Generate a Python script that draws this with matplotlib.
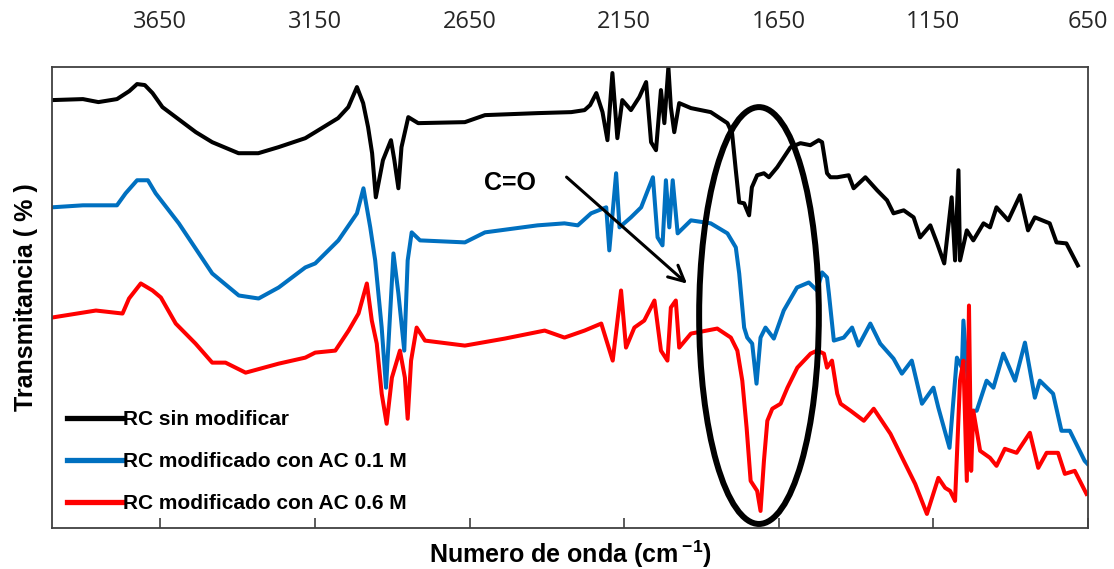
# FTIR spectra - RC sin modificar vs. modificado con AC
# Recreated with matplotlib

import matplotlib
matplotlib.use("Agg")
import matplotlib.pyplot as plt
from matplotlib.patches import Ellipse

plt.rcParams["font.family"] = ["Liberation Sans", "DejaVu Sans"]
plt.rcParams["mathtext.fontset"] = "custom"
plt.rcParams["mathtext.rm"] = "Liberation Sans"
plt.rcParams["mathtext.bf"] = "Liberation Sans:bold"

# 1st Step: data (wavenumber in cm-1, transmittance in arbitrary units)

black_wn = [4000, 3900, 3850, 3790, 3750, 3725, 3700, 3675, 3643, 3535, 3482, 3397, 3333, 3268,
            3181, 3149, 3075, 3042, 3014, 2994, 2978, 2965, 2953, 2930, 2904, 2893, 2880, 2870,
            2848, 2816, 2665, 2600, 2430, 2321, 2278, 2260, 2240, 2220, 2204, 2188, 2172, 2156,
            2128, 2101, 2079, 2063, 2047, 2031, 2020, 2007, 1999, 1988, 1972, 1934, 1870, 1816,
            1801, 1789, 1778, 1762, 1746, 1737, 1720, 1698, 1682, 1655, 1612, 1580, 1548, 1521,
            1510, 1494, 1483, 1461, 1424, 1408, 1370, 1332, 1300, 1279, 1246, 1214, 1193, 1160,
            1139, 1115, 1091, 1080, 1069, 1064, 1042, 1021, 988, 967, 946, 908, 870, 844, 822,
            774, 752, 720, 683]
black_t = [42.7, 42.8, 42.5, 42.8, 43.6, 44.3, 44.2, 43.4, 42.0, 39.5, 38.5, 37.4, 37.4, 38.0,
           38.9, 39.5, 40.9, 42.0, 44.0, 42.4, 40.0, 37.4, 33.0, 36.7, 38.7, 36.7, 33.9, 38.0,
           41.0, 40.4, 40.5, 41.2, 41.4, 41.5, 41.7, 42.2, 43.4, 41.5, 38.7, 45.4, 38.9, 42.7,
           41.7, 43.0, 44.5, 38.5, 37.7, 43.7, 40.4, 46.0, 42.0, 39.5, 42.4, 41.9, 41.5, 40.4,
           39.4, 35.7, 32.5, 32.4, 31.2, 34.0, 35.2, 35.4, 35.0, 36.0, 38.0, 38.4, 38.2, 38.7,
           38.5, 35.4, 35.0, 35.0, 35.2, 33.9, 35.0, 33.7, 32.7, 31.4, 31.7, 31.0, 29.0, 30.2,
           28.5, 26.4, 33.0, 26.7, 35.7, 26.7, 29.7, 28.7, 30.4, 30.0, 32.0, 30.7, 33.2, 29.7, 31.0,
           30.4, 28.5, 28.4, 26.2]

blue_wn = [4000, 3900, 3790, 3762, 3725, 3690, 3665, 3590, 3482, 3396, 3332, 3267, 3181, 3149,
           3074, 3014, 2993, 2971, 2955, 2934, 2920, 2896, 2880, 2861, 2850, 2837, 2810, 2665,
           2600, 2430, 2343, 2300, 2257, 2208, 2198, 2176, 2165, 2128, 2095, 2057, 2042, 2026,
           2015, 2004, 1993, 1977, 1934, 1870, 1816, 1789, 1778, 1762, 1752, 1736, 1722, 1709,
           1693, 1666, 1634, 1591, 1553, 1526, 1510, 1494, 1488, 1472, 1440, 1413, 1392, 1354,
           1322, 1279, 1252, 1220, 1187, 1150, 1134, 1098, 1074, 1058, 1053, 1032, 1010, 978,
           956, 924, 886, 854, 822, 806, 763, 736, 709, 661, 652]
blue_t = [32.0, 32.2, 32.2, 33.4, 34.7, 34.7, 33.4, 30.4, 25.4, 23.2, 22.9, 24.0, 26.0, 26.4,
          28.7, 31.4, 33.9, 30.0, 26.7, 20.0, 14.0, 27.4, 23.4, 17.7, 26.7, 29.5, 28.7, 28.5,
          29.5, 30.2, 30.4, 30.2, 31.4, 32.0, 27.7, 35.4, 30.0, 31.0, 32.0, 35.0, 29.0, 28.2,
          34.7, 30.0, 34.7, 29.4, 30.7, 30.4, 29.4, 28.0, 25.4, 20.0, 19.0, 18.4, 14.4, 19.0,
          20.0, 18.9, 21.7, 24.0, 24.5, 23.7, 25.5, 25.0, 23.4, 18.7, 19.0, 20.0, 18.2, 20.4,
          18.4, 16.9, 15.4, 16.7, 12.4, 14.0, 12.0, 8.0, 17.0, 16.0, 20.7, 11.7, 11.7, 14.7,
          14.0, 17.4, 14.7, 18.5, 13.0, 14.7, 13.4, 9.7, 9.7, 6.7, 6.4]

red_wn = [4000, 3858, 3772, 3751, 3713, 3675, 3648, 3600, 3536, 3482, 3439, 3374, 3267, 3181,
          3149, 3084, 3041, 3009, 2982, 2966, 2950, 2934, 2918, 2901, 2875, 2859, 2850, 2839,
          2821, 2794, 2665, 2536, 2407, 2343, 2278, 2224, 2187, 2160, 2144, 2117, 2085, 2052,
          2031, 2010, 1999, 1983, 1972, 1934, 1849, 1805, 1784, 1768, 1754, 1741, 1720, 1709,
          1698, 1687, 1671, 1644, 1622, 1590, 1547, 1526, 1504, 1494, 1478, 1461, 1450, 1418,
          1375, 1343, 1289, 1246, 1209, 1171, 1134, 1112, 1096, 1080, 1064, 1053, 1042, 1035,
          1028, 1021, 999, 967, 946, 919, 881, 838, 811, 784, 747, 725, 693, 655]
red_t = [21.0, 21.7, 21.4, 22.9, 24.4, 23.7, 23.0, 20.4, 18.4, 16.5, 16.5, 15.5, 16.4, 17.0,
         17.5, 17.7, 19.7, 21.4, 24.4, 20.7, 18.4, 13.4, 10.4, 15.0, 17.7, 15.0, 10.9, 16.7,
         20.0, 18.7, 18.2, 18.9, 19.7, 19.0, 19.7, 20.4, 16.7, 23.7, 18.0, 20.0, 20.7, 22.7,
         17.7, 16.7, 22.0, 22.7, 18.0, 19.4, 19.9, 19.0, 17.7, 14.7, 10.0, 4.7, 3.7, 1.7,
         6.7, 10.7, 11.9, 12.4, 14.0, 16.0, 17.4, 17.7, 17.4, 16.0, 16.7, 13.4, 12.4, 11.7,
         10.7, 11.9, 9.4, 6.7, 4.4, 1.4, 5.0, 4.0, 3.7, 2.7, 14.7, 16.7, 4.7, 22.2,
         5.7, 11.7, 7.7, 7.0, 6.2, 7.9, 7.5, 9.5, 6.0, 7.5, 7.5, 5.4, 5.7, 3.4]

series_labels = ["RC sin modificar", "RC modificado con AC 0.1 M", "RC modificado con AC 0.6 M"]
series_colors = ["black", "#0070C0", "#FF0000"]

tick_values = [3650, 3150, 2650, 2150, 1650, 1150, 650]

# C=O band marker (ellipse) and arrow
band_center = (1714, 21.2)
band_width = 387
band_height = 41.6
arrow_start = (2343, 35.2)
arrow_end = (1940, 24.2)
label_pos = (2520, 34.4)

# 2nd Step: figure

fig = plt.figure(figsize=(11.14, 5.69), dpi=100)
ax = fig.add_axes([0.0467, 0.0721, 0.93, 0.8101])

for wn, t, lab, col in zip([black_wn, blue_wn, red_wn], [black_t, blue_t, red_t],
                           series_labels, series_colors):
    ax.plot(wn, t, color=col, lw=2.9, label=lab, solid_joinstyle="round")

ax.set_xlim(4000, 650)
ax.set_ylim(0, 46)

# ticks: marks at the bottom (inside), labels on top
ax.set_xticks(tick_values)
ax.set_xticklabels([str(v) for v in tick_values])
ax.xaxis.set_ticks_position("bottom")
ax.tick_params(axis="x", direction="in", length=7, width=1.2, color="#404040",
               labelbottom=False, labeltop=True, pad=24, labelsize=17,
               labelcolor="#262626")
for lbl in ax.get_xticklabels():
    lbl.set_family(["Open Sans", "DejaVu Sans"])
ax.set_yticks([])

for sp in ax.spines.values():
    sp.set_color("#404040")
    sp.set_linewidth(1.3)

ax.set_xlabel(r"Numero de onda (cm$\,^{\mathbf{-1}}$)", fontsize=18, fontweight="bold",
              labelpad=8)
ax.set_ylabel("Transmitancia ( % )", fontsize=18, fontweight="bold", labelpad=10)

# ellipse around the C=O band
ell = Ellipse(band_center, band_width, band_height, fill=False, edgecolor="black",
              lw=4.3, zorder=5)
ax.add_patch(ell)

ax.annotate("", xy=arrow_end, xytext=arrow_start,
            arrowprops=dict(arrowstyle="->", color="black", lw=2.2, mutation_scale=28))
ax.text(label_pos[0], label_pos[1], "C=O", fontsize=18, fontweight="bold",
        ha="center", va="center")

leg = ax.legend(loc="upper left", bbox_to_anchor=(0.0145, 0.256), frameon=False,
                handlelength=2.65, handletextpad=0.05, labelspacing=1.1,
                borderpad=0, borderaxespad=0,
                prop={"size": 15, "weight": "bold"})
for line in leg.get_lines():
    line.set_linewidth(3.8)

fig.savefig("out.png", dpi=100)
plt.close(fig)
print("Figure saved to out.png")
